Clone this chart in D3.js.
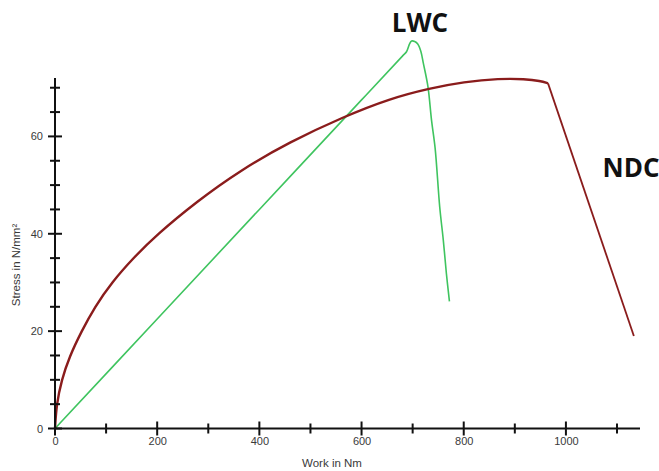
<!DOCTYPE html>
<html>
<head>
<meta charset="utf-8">
<script src="https://cdn.jsdelivr.net/npm/d3@7/dist/d3.min.js"></script>
<style>
  html, body { margin: 0; padding: 0; background: #fff; }
  svg { display: block; }
  .tick-label { font-family: "Liberation Sans", Arial, sans-serif; font-size: 11px; fill: #3a3a3a; }
  .axis-title { font-family: "Liberation Sans", Arial, sans-serif; font-size: 11.5px; fill: #3a3a3a; }
  .series-label { font-family: "Open Sans", "Liberation Sans", sans-serif; font-weight: 700; font-size: 26px; fill: #111; }
</style>
</head>
<body>
<svg id="chart" width="659" height="471"></svg>
<script>
// Stress–work curves for two concrete mixes
const ndcWork   = [0, 3, 13, 28, 52, 78, 111, 153, 199, 277, 362, 460, 564, 656, 734, 800, 870, 920, 950, 965, 1133];
const ndcStress = [0, 5, 10, 14.7, 20, 25, 30, 35, 39.8, 46.6, 53.0, 58.9, 64.0, 67.8, 69.9, 71.2, 71.9, 71.8, 71.4, 70.9, 19];
const ndcBreak  = 965;   // end of the smooth loading branch

const lwcWork   = [0, 200, 400, 600, 680, 688, 694, 698, 704, 710, 716, 721, 730, 737, 744, 753, 760, 766, 772];
const lwcStress = [0, 22.5, 45, 67.5, 76.5, 77.4, 79.0, 79.6, 79.5, 79.0, 77.5, 75.0, 70.2, 63.3, 57.6, 45.5, 38.7, 31.9, 26.1];

const xMajorTicks = [0, 200, 400, 600, 800, 1000];
const xMinorTicks = [100, 300, 500, 700, 900, 1100];
const yMajorTicks = [0, 20, 40, 60];
const yMinorTicks = [5, 10, 15, 25, 30, 35, 45, 50, 55, 65, 70];

const xTitle = "Work in Nm";
const yTitle = "Stress in N/mm²";

const svg = d3.select("#chart");

const x = d3.scaleLinear().domain([0, 1145]).range([55, 640]);
const y = d3.scaleLinear().domain([0, 72]).range([428.5, 78]);

const ndc = ndcWork.map((w, i) => ({ w, s: ndcStress[i] }));
const lwc = lwcWork.map((w, i) => ({ w, s: lwcStress[i] }));

const through = d3.line().x(d => x(d.w)).y(d => y(d.s)).curve(d3.curveCatmullRom.alpha(0.5));
const fitted = d3.line().x(d => x(d.w)).y(d => y(d.s)).curve(d3.curveBasis);
const straight = d3.line().x(d => x(d.w)).y(d => y(d.s));

// curves
svg.append("path")
  .attr("d", through(lwc))
  .attr("fill", "none")
  .attr("stroke", "#3fc45f")
  .attr("stroke-width", 1.6);

svg.append("path")
  .attr("d", fitted(ndc.filter(d => d.w <= ndcBreak)))
  .attr("fill", "none")
  .attr("stroke", "#8a1c1c")
  .attr("stroke-width", 2.4);

svg.append("path")
  .attr("d", straight(ndc.filter(d => d.w >= ndcBreak)))
  .attr("fill", "none")
  .attr("stroke", "#8a1c1c")
  .attr("stroke-width", 1.8);

// axes: labelled major ticks, then crossing tick marks
const gx = svg.append("g").attr("transform", `translate(0,${y(0)})`);
gx.call(d3.axisBottom(x).tickValues(xMajorTicks).tickFormat(d3.format("d")).tickSize(0).tickPadding(9).tickSizeOuter(0));
gx.select(".domain").remove();
gx.selectAll("text").attr("class", "tick-label").attr("fill", null).attr("font-size", null).attr("font-family", null);

const gy = svg.append("g").attr("transform", `translate(${x(0)},0)`);
gy.call(d3.axisLeft(y).tickValues(yMajorTicks).tickFormat(d3.format("d")).tickSize(0).tickPadding(12).tickSizeOuter(0));
gy.select(".domain").remove();
gy.selectAll("text").attr("class", "tick-label").attr("fill", null).attr("font-size", null).attr("font-family", null);

svg.append("line")
  .attr("x1", x(0)).attr("x2", x.range()[1])
  .attr("y1", y(0)).attr("y2", y(0))
  .attr("stroke", "#111").attr("stroke-width", 2);
svg.append("line")
  .attr("x1", x(0)).attr("x2", x(0))
  .attr("y1", y(0)).attr("y2", y.range()[1])
  .attr("stroke", "#111").attr("stroke-width", 2);

const tickG = svg.append("g").attr("stroke", "#111").attr("stroke-width", 2);
xMajorTicks.forEach(v => tickG.append("line").attr("x1", x(v)).attr("x2", x(v)).attr("y1", y(0) - 7).attr("y2", y(0) + 7));
xMinorTicks.forEach(v => tickG.append("line").attr("x1", x(v)).attr("x2", x(v)).attr("y1", y(0) - 5).attr("y2", y(0) + 5));
yMajorTicks.forEach(v => tickG.append("line").attr("y1", y(v)).attr("y2", y(v)).attr("x1", x(0) - 7).attr("x2", x(0) + 7));
yMinorTicks.forEach(v => tickG.append("line").attr("y1", y(v)).attr("y2", y(v)).attr("x1", x(0) - 5).attr("x2", x(0) + 5));

// axis titles
svg.append("text").attr("class", "axis-title")
  .attr("x", 332).attr("y", 467).attr("text-anchor", "middle").text(xTitle);
svg.append("text").attr("class", "axis-title")
  .attr("transform", "translate(20,265) rotate(-90)")
  .attr("text-anchor", "middle").text(yTitle);

// series labels
svg.append("text").attr("class", "series-label").attr("x", 420).attr("y", 32).attr("text-anchor", "middle").text("LWC");
svg.append("text").attr("class", "series-label").attr("x", 631).attr("y", 177).attr("text-anchor", "middle").text("NDC");
</script>
</body>
</html>
